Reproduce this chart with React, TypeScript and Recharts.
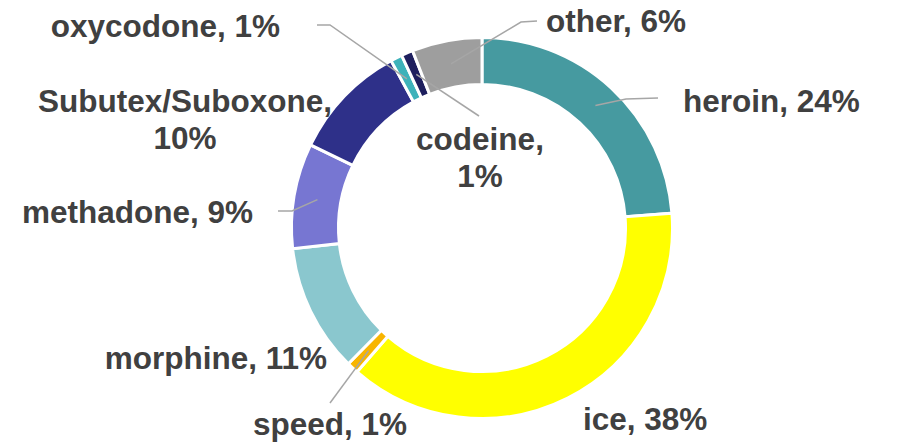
import React from 'react';
import { PieChart, Pie, Cell } from 'recharts';

const categories = ['heroin', 'ice', 'speed', 'morphine', 'methadone', 'Subutex/Suboxone', 'oxycodone', 'codeine', 'other'];
const shares = [24, 38, 1, 11, 9, 10, 1, 1, 6];

const colors = ['#469AA0', '#FFFF00', '#F8B500', '#8AC7CE', '#7776D2', '#2E3089', '#3DB2BA', '#1E1F5E', '#9E9E9E'];

// label layout: text anchor point (baseline), text-anchor, line breaking, leader path points (after start)
type LabelLayout = { x: number; y: number; anchor: 'start' | 'end' | 'middle'; split?: boolean; leader?: [number, number][] };
const labelLayout: LabelLayout[] = [
  { x: 683, y: 112, anchor: 'start', leader: [[626, 99], [658, 98]] },
  { x: 583, y: 430, anchor: 'start' },
  { x: 407, y: 435, anchor: 'end', leader: [[330, 403]] },
  { x: 327, y: 369, anchor: 'end' },
  { x: 253, y: 223, anchor: 'end', leader: [[292, 211], [278, 211]] },
  { x: 185, y: 112, anchor: 'middle', split: true },
  { x: 280, y: 37, anchor: 'end', leader: [[330, 25], [317, 25]] },
  { x: 480, y: 150, anchor: 'middle', split: true, leader: [[479, 116]] },
  { x: 546, y: 32, anchor: 'start', leader: [[521, 22], [537, 21]] },
];

const data = categories.map((name, i) => ({ name, value: shares[i] }));

const RAD = Math.PI / 180;

const renderLabel = (props: any) => {
  const { cx, cy, midAngle, innerRadius, outerRadius, index } = props;
  const lay = labelLayout[index];
  const r = (innerRadius + outerRadius) / 2;
  const sx = cx + r * Math.cos(-midAngle * RAD);
  const sy = cy + r * Math.sin(-midAngle * RAD);
  const text1 = lay.split ? `${categories[index]},` : `${categories[index]}, ${shares[index]}%`;
  const text2 = lay.split ? `${shares[index]}%` : null;
  const pts = lay.leader ? [[sx, sy], ...lay.leader] : null;
  return (
    <g key={`lbl-${index}`}>
      {pts && (
        <polyline
          points={pts.map((p) => p.join(',')).join(' ')}
          fill="none"
          stroke="#A6A6A6"
          strokeWidth={1.5}
        />
      )}
      <text
        x={lay.x}
        y={lay.y}
        textAnchor={lay.anchor}
        fontFamily="'Liberation Sans', Arial, sans-serif"
        fontWeight="bold"
        fontSize={31.5}
        fill="#404040"
      >
        {text1}
      </text>
      {text2 && (
        <text
          x={lay.x}
          y={lay.y + 37}
          textAnchor={lay.anchor}
          fontFamily="'Liberation Sans', Arial, sans-serif"
          fontWeight="bold"
          fontSize={31.5}
          fill="#404040"
        >
          {text2}
        </text>
      )}
    </g>
  );
};

export default function App() {
  return (
    <div style={{ position: 'absolute', left: 0, top: 0, width: 897, height: 444, background: '#fff' }}>
      <PieChart width={897} height={444} margin={{ top: 0, right: 0, bottom: 0, left: 0 }}>
        <Pie
          data={data}
          dataKey="value"
          nameKey="name"
          cx={482}
          cy={228}
          innerRadius={143.5}
          outerRadius={190.5}
          startAngle={90}
          endAngle={-270}
          stroke="#FFFFFF"
          strokeWidth={3}
          isAnimationActive={false}
          labelLine={false}
          label={renderLabel}
        >
          {data.map((d, i) => (
            <Cell key={d.name} fill={colors[i]} />
          ))}
        </Pie>
      </PieChart>
    </div>
  );
}
